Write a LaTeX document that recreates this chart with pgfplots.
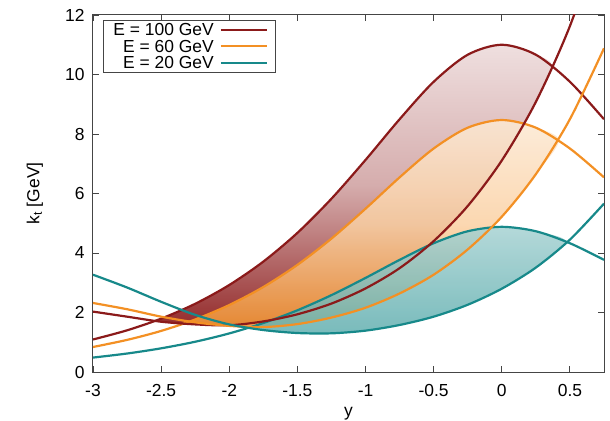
\documentclass[border=0pt]{standalone}
\usepackage{fontspec}
\setmainfont{Liberation Sans}
\usepackage{pgfplots}
\pgfplotsset{compat=1.18}
\definecolor{cRed}{HTML}{8B1A1A}
\definecolor{cOrg}{HTML}{F39024}
\definecolor{cTeal}{HTML}{17898A}
\definecolor{frame}{HTML}{454545}
\begin{document}
\begin{tikzpicture}
\path[use as bounding box] (-93bp,-49bp) rectangle (517bp,372bp);
\begin{axis}[
  at={(0,0)}, anchor=south west,
  scale only axis, width=511bp, height=357bp,
  xmin=-3, xmax=0.75, ymin=0, ymax=12,
  xtick={-3,-2.5,-2,-1.5,-1,-0.5,0,0.5},
  xticklabels={-3,-2.5,-2,-1.5,-1,-0.5,0,0.5},
  ytick={0,2,4,6,8,10,12},
  yticklabels={0,2,4,6,8,10,12},
  tick align=inside, tick pos=both,
  major tick length=6bp,
  axis line style={frame, line width=1bp},
  every tick/.style={frame, line width=0.9bp},
  tick label style={font=\fontsize{17.5}{19}\selectfont},
  xticklabel style={yshift=-8.5bp},
  yticklabel style={xshift=-5bp},
  xlabel={y}, ylabel={k\textsubscript{t} [GeV]},
  every axis x label/.style={at={(axis description cs:0.5,-0.118)}, anchor=center, font=\fontsize{17.5}{19}\selectfont},
  every axis y label/.style={at={(axis description cs:-0.114,0.5)}, rotate=90, anchor=center, font=\fontsize{17.5}{19}\selectfont},
  legend cell align=right,
  legend plot pos=right,
  legend style={at={(axis description cs:0.0196,0.986)}, anchor=north west, draw=frame, line width=0.9bp, fill=white,
    font=\fontsize{17.5}{19}\selectfont, inner xsep=7bp, inner ysep=1bp, row sep=0pt, column sep=3bp,
    nodes={inner ysep=1.8bp, inner xsep=3bp, text height=12.5bp, text depth=0.5bp}},
  legend image code/.code={\draw[#1, line width=2.2bp] (0bp,0bp) -- (46bp,0bp);},
]
% populated regions (scatter clouds): bell curve from left to right crossing, then lower curve back
\addplot[draw=none, top color=cRed!14, bottom color=cRed!92, middle color=cRed!36, smooth, forget plot] coordinates {
(-2.56,1.70) (-2.5,1.794) (-2.25,2.293) (-2,2.924) (-1.75,3.711) (-1.5,4.676) (-1.25,5.825) (-1,7.129) (-0.75,8.496) (-0.5,9.755) (-0.25,10.665) (0,11) (0.25,10.665) (0.37,10.26)
(0.25,9.08) (0,7.11) (-0.25,5.58) (-0.5,4.40) (-0.75,3.49) (-1,2.81) (-1.25,2.30) (-1.5,1.94) (-1.75,1.70) (-2,1.57) (-2.25,1.60) (-2.5,1.69) (-2.56,1.70)} -- cycle;
\addplot[draw=none, top color=cOrg!20, bottom color=cOrg!92, middle color=cOrg!42, fill opacity=0.85, smooth, forget plot] coordinates {
(-2.30,1.69) (-2.25,1.766) (-2,2.251) (-1.75,2.857) (-1.5,3.601) (-1.25,4.485) (-1,5.489) (-0.75,6.542) (-0.5,7.512) (-0.25,8.212) (0,8.47) (0.25,8.212) (0.42,7.78)
(0.25,6.65) (0,5.22) (-0.25,4.12) (-0.5,3.27) (-0.75,2.64) (-1,2.16) (-1.25,1.83) (-1.5,1.61) (-1.75,1.51) (-2,1.55) (-2.25,1.67) (-2.30,1.69)} -- cycle;
\addplot[draw=none, top color=cTeal!38, bottom color=cTeal!68, fill opacity=0.85, smooth, forget plot] coordinates {
(-1.86,1.47) (-1.75,1.646) (-1.5,2.074) (-1.25,2.584) (-1,3.162) (-0.75,3.769) (-0.5,4.328) (-0.25,4.731) (0,4.88) (0.25,4.731) (0.47,4.38)
(0.25,3.51) (0,2.80) (-0.25,2.26) (-0.5,1.86) (-0.75,1.58) (-1,1.39) (-1.25,1.30) (-1.5,1.31) (-1.75,1.41) (-1.86,1.47)} -- cycle;
% upper (bell) curves
\addplot[cRed, line width=2.2bp, smooth] coordinates {
(-3,1.093) (-2.75,1.401) (-2.5,1.794) (-2.25,2.293) (-2,2.924) (-1.75,3.711) (-1.5,4.676) (-1.25,5.825) (-1,7.129) (-0.75,8.496) (-0.5,9.755) (-0.25,10.665) (0,11) (0.25,10.665) (0.5,9.755) (0.75,8.496)};
\addlegendentry{E = 100 GeV}
\addplot[cOrg, line width=2.2bp, smooth] coordinates {
(-3,0.841) (-2.75,1.079) (-2.5,1.381) (-2.25,1.766) (-2,2.251) (-1.75,2.857) (-1.5,3.601) (-1.25,4.485) (-1,5.489) (-0.75,6.542) (-0.5,7.512) (-0.25,8.212) (0,8.47) (0.25,8.212) (0.5,7.512) (0.75,6.542)};
\addlegendentry{E = 60 GeV}
\addplot[cTeal, line width=2.2bp, smooth] coordinates {
(-3,0.485) (-2.75,0.621) (-2.5,0.796) (-2.25,1.017) (-2,1.297) (-1.75,1.646) (-1.5,2.074) (-1.25,2.584) (-1,3.162) (-0.75,3.769) (-0.5,4.328) (-0.25,4.731) (0,4.88) (0.25,4.731) (0.5,4.328) (0.75,3.769)};
\addlegendentry{E = 20 GeV}
% lower (U-shaped) curves
\addplot[cRed, line width=2.2bp, smooth, forget plot] coordinates {
(-3,2.03) (-2.75,1.86) (-2.5,1.69) (-2.25,1.60) (-2,1.57) (-1.75,1.70) (-1.5,1.94) (-1.25,2.30) (-1,2.81) (-0.75,3.49) (-0.5,4.40) (-0.25,5.58) (0,7.11) (0.25,9.08) (0.5,11.63) (0.75,14.9)};
\addplot[cOrg, line width=2.2bp, smooth, forget plot] coordinates {
(-3,2.32) (-2.75,2.11) (-2.5,1.86) (-2.25,1.67) (-2,1.55) (-1.75,1.51) (-1.5,1.61) (-1.25,1.83) (-1,2.16) (-0.75,2.64) (-0.5,3.27) (-0.25,4.12) (0,5.22) (0.25,6.65) (0.5,8.50) (0.75,10.88)};
\addplot[cTeal, line width=2.2bp, smooth, forget plot] coordinates {
(-3,3.27) (-2.75,2.84) (-2.5,2.36) (-2.25,1.92) (-2,1.60) (-1.75,1.41) (-1.5,1.31) (-1.25,1.30) (-1,1.39) (-0.75,1.58) (-0.5,1.86) (-0.25,2.26) (0,2.80) (0.25,3.51) (0.5,4.45) (0.75,5.66)};
\end{axis}
\end{tikzpicture}
\end{document}
